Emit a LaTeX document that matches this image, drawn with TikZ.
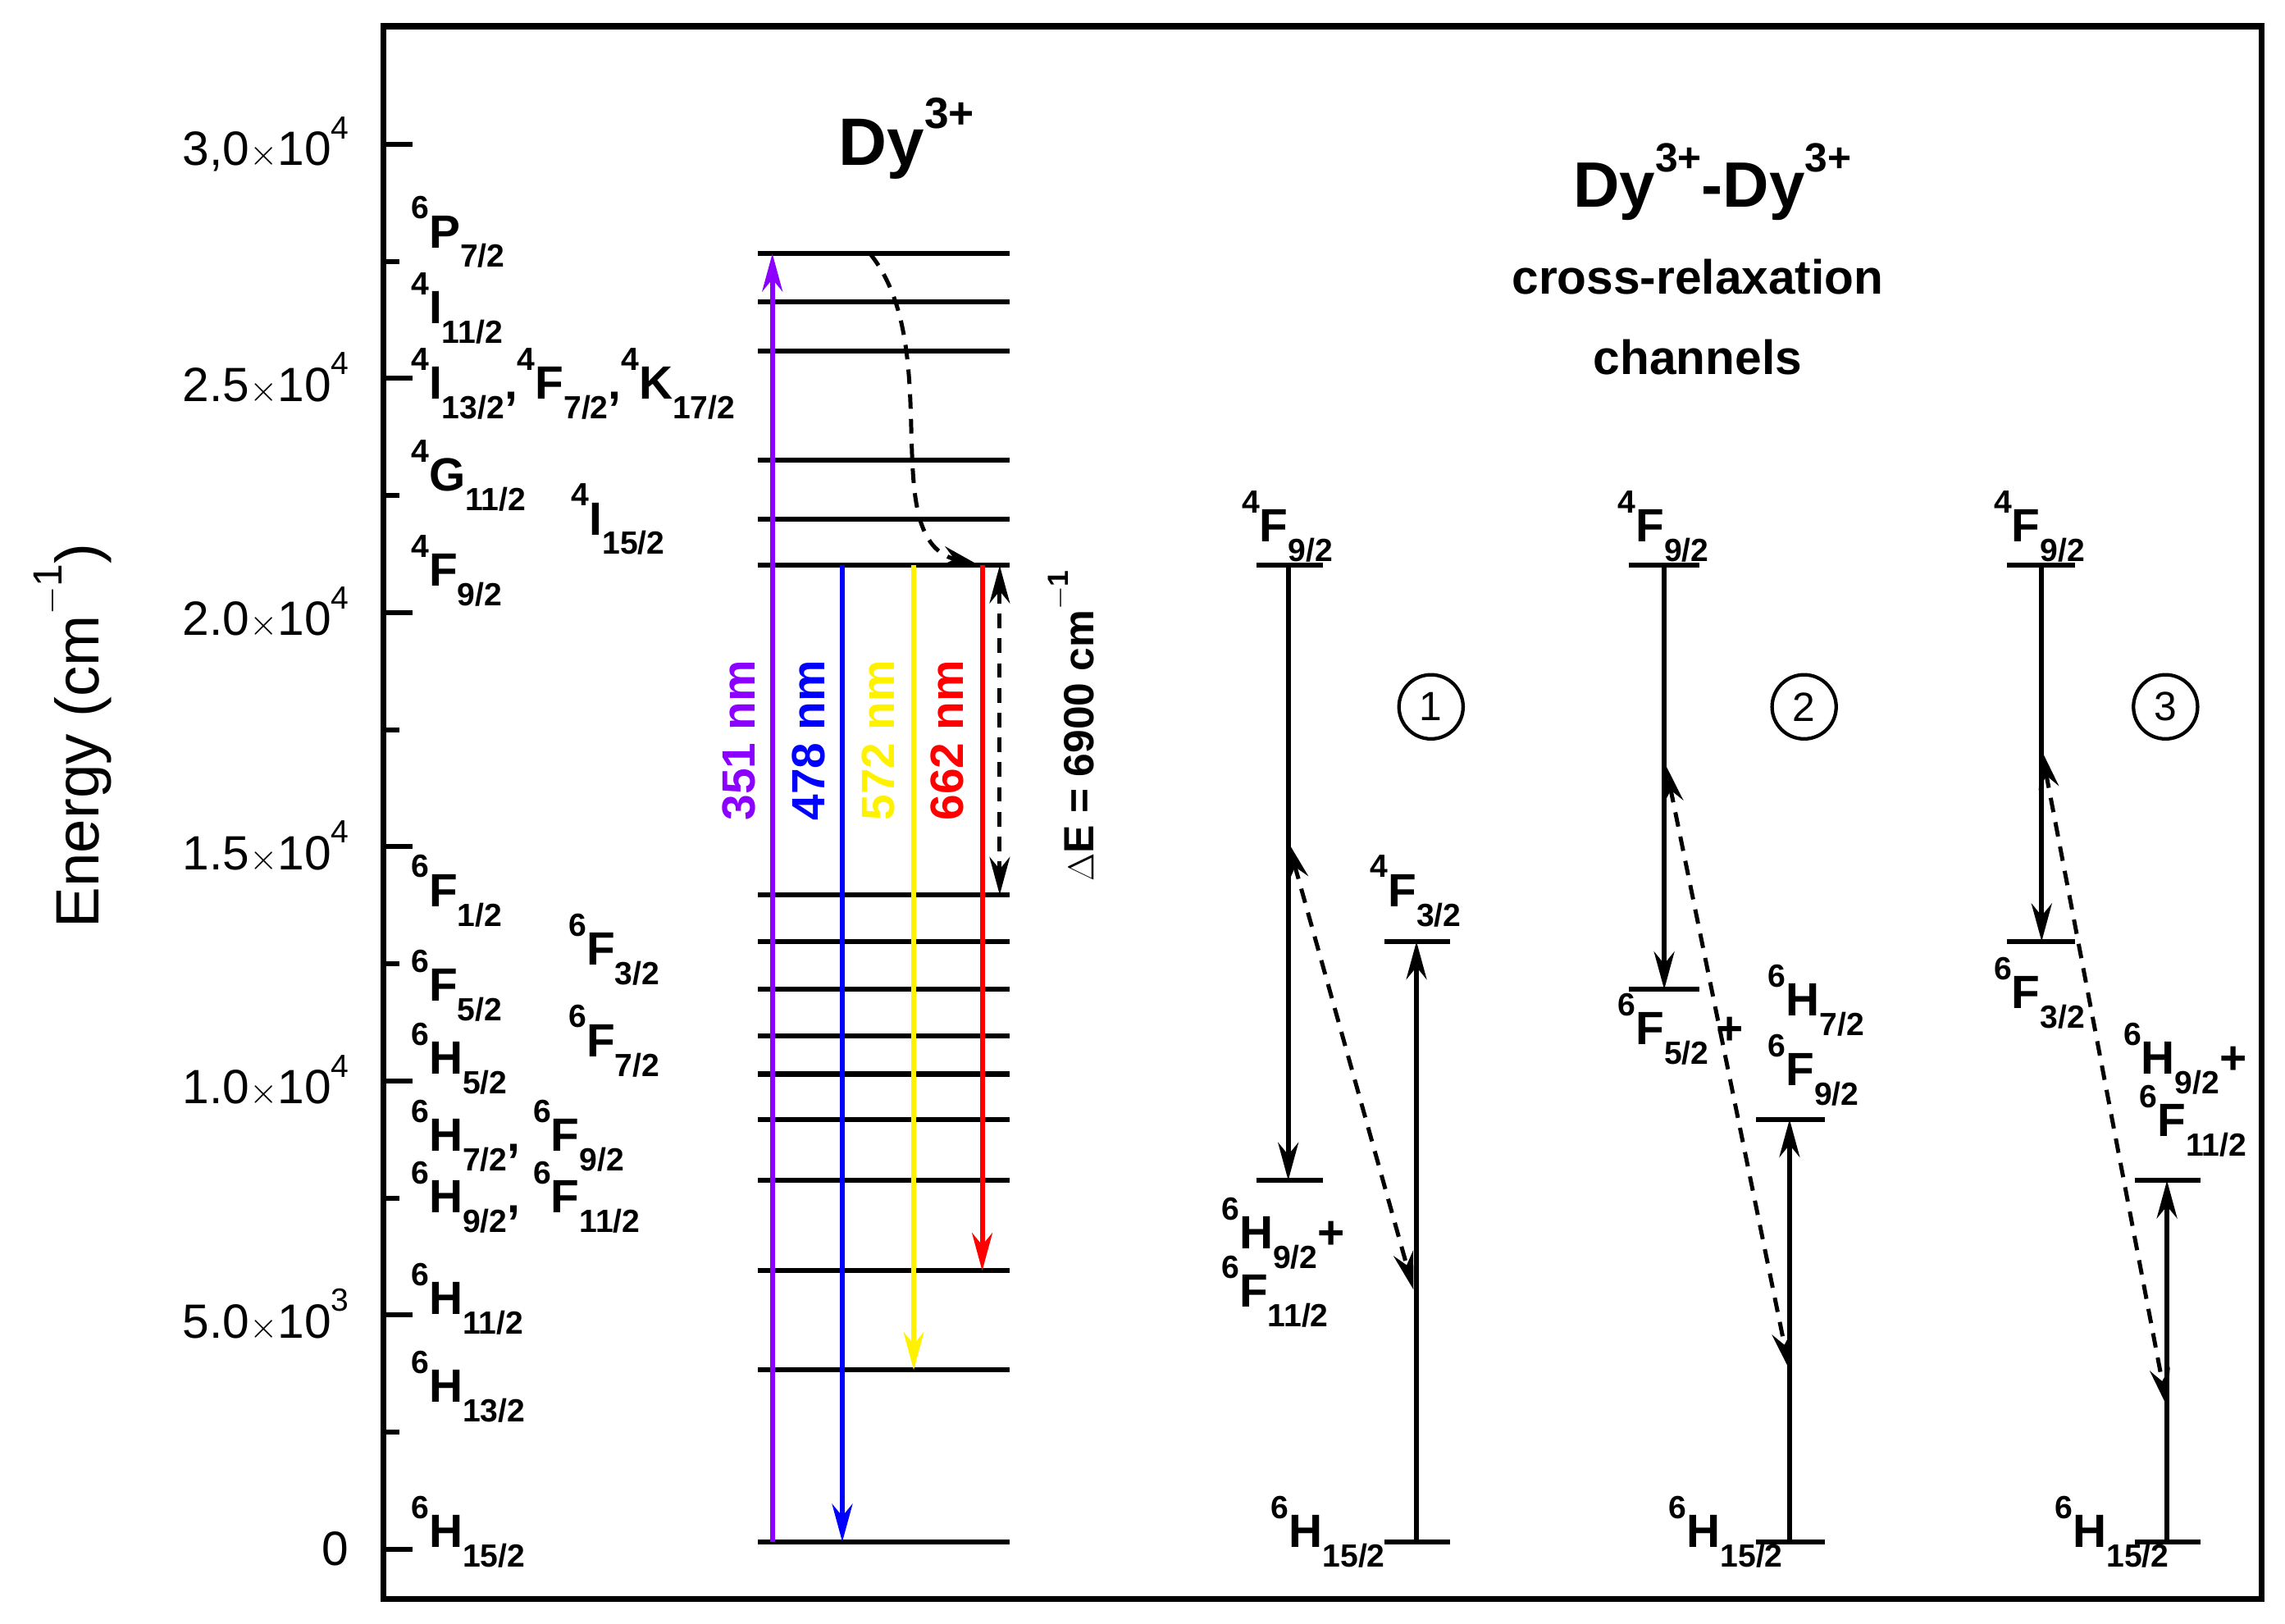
\documentclass[tikz,border=0pt]{standalone}
\usepackage{fontspec}
\setmainfont{Liberation Sans}
\usetikzlibrary{arrows.meta}
\definecolor{vio}{RGB}{140,0,255}
\newcommand\lv[3]{\raisebox{0.62em}{\fontsize{22}{24}\selectfont#1}#2\raisebox{-0.42em}{\fontsize{22}{24}\selectfont#3}}
\newcommand\pw[1]{\raisebox{0.55em}{\fontsize{22}{24}\selectfont#1}}
\begin{document}
\begin{tikzpicture}[x=1pt,y=-1pt,
 lab/.style={font=\fontsize{32}{36}\selectfont\bfseries,anchor=base west,inner sep=0},
 lvl/.style={line width=3.4pt},
 tr/.style={line width=3.4pt,-{Stealth[length=26pt,width=14pt]}},
 dsh/.style={line width=2.8pt,dash pattern=on 10pt off 7pt,-{Stealth[length=26pt,width=14pt]}},
 bdsh/.style={dsh,{Stealth[length=26pt,width=14pt]}-{Stealth[length=26pt,width=14pt]}},
 nm/.style={font=\fontsize{32}{36}\selectfont\bfseries,rotate=90},
 circ/.style={circle,draw,line width=2.4pt,minimum size=44pt,inner sep=0,font=\fontsize{28}{30}\selectfont},
 tk/.style={font=\fontsize{33}{36}\selectfont,anchor=east}]
\useasboundingbox (0,0) rectangle (1568,1114);
\draw[line width=4pt] (263,18) rectangle (1552,1097);
% ticks
\foreach \e/\t in {0/0,5/{5.0$\times$10\pw{3}},10/{1.0$\times$10\pw{4}},15/{1.5$\times$10\pw{4}},20/{2.0$\times$10\pw{4}},25/{2.5$\times$10\pw{4}},30/{3,0$\times$10\pw{4}}}{
 \draw[line width=3.4pt] (263,{1063-\e*32.133}) -- (283,{1063-\e*32.133});
 \node[tk] (t\e) at (243,{1063-\e*32.133}) {\t};}
\foreach \e in {2.5,7.5,12.5,17.5,22.5,27.5,32.5}{
 \draw[line width=3.4pt] (263,{1063-\e*32.133}) -- (274,{1063-\e*32.133});}
\node[rotate=90,font=\fontsize{42}{46}\selectfont] (ax) at (50,505) {Energy (cm\raisebox{0.6em}{\fontsize{28}{30}\selectfont$-$1})};
% levels
\foreach \y [count=\i] in {174,207,241,316,356,388,614,646,679,711,737,768,810,872,940,1058}{
 \draw[lvl] (520,\y) coordinate (L\i a) -- (693,\y) coordinate (L\i b);}
\coordinate (v1) at (530,1058); \coordinate (v2) at (530,174);
\draw[tr,draw=vio,fill=vio] (v1) -- (v2);
\coordinate (b1) at (578,388); \coordinate (b2) at (578,1058);
\draw[tr,draw=blue,fill=blue] (b1) -- (b2);
\coordinate (y1) at (627,388); \coordinate (y2) at (627,940);
\draw[tr,draw=yellow,fill=yellow] (y1) -- (y2);
\coordinate (r1) at (674,388); \coordinate (r2) at (674,872);
\draw[tr,draw=red,fill=red] (r1) -- (r2);
\coordinate (c1) at (597,174); \coordinate (c2) at (672,388);
\draw[dsh] (c1) .. controls (650,240) and (600,370) .. (c2);
\coordinate (d1) at (686,388); \coordinate (d2) at (686,614);
\draw[bdsh] (d1) -- (d2);
\node[nm,text=vio] (w1) at (507,508) {351 nm};
\node[nm,text=blue] (w2) at (555,508) {478 nm};
\node[nm,text=yellow] (w3) at (603,508) {572 nm};
\node[nm,text=red] (w4) at (650,508) {662 nm};
\node[font=\fontsize{29}{32}\selectfont\bfseries,rotate=90] (dE) at (735,498) {$\Delta$E = 6900 cm\raisebox{0.6em}{\fontsize{20}{22}\selectfont$-$1}};
\node[font=\fontsize{46}{50}\selectfont\bfseries] (t1) at (622,95) {Dy\raisebox{0.55em}{\fontsize{30}{32}\selectfont 3+}};
\node[font=\fontsize{44}{48}\selectfont\bfseries] (t2) at (1175,125) {Dy\raisebox{0.55em}{\fontsize{28}{30}\selectfont 3+}-Dy\raisebox{0.55em}{\fontsize{28}{30}\selectfont 3+}};
\node[font=\fontsize{33}{36}\selectfont\bfseries] (t3) at (1165,190) {cross-relaxation};
\node[font=\fontsize{33}{36}\selectfont\bfseries] (t4) at (1165,245) {channels};
% left labels
\node[lab] (a1) at (282,170) {\lv{6}{P}{7/2}};
\node[lab] (a2) at (282,222) {\lv{4}{I}{11/2}};
\node[lab] (a3) at (282,274) {\lv{4}{I}{13/2},\lv{4}{F}{7/2},\lv{4}{K}{17/2}};
\node[lab] (a4) at (282,337) {\lv{4}{G}{11/2}};
\node[lab] (a5) at (392,367) {\lv{4}{I}{15/2}};
\node[lab] (a6) at (282,402) {\lv{4}{F}{9/2}};
\node[lab] (a7) at (282,622) {\lv{6}{F}{1/2}};
\node[lab] (a8) at (390,662) {\lv{6}{F}{3/2}};
\node[lab] (a9) at (282,687) {\lv{6}{F}{5/2}};
\node[lab] (a10) at (390,725) {\lv{6}{F}{7/2}};
\node[lab] (a11) at (282,737) {\lv{6}{H}{5/2}};
\node[lab] (a12) at (282,790) {\lv{6}{H}{7/2}, \lv{6}{F}{9/2}};
\node[lab] (a13) at (282,832) {\lv{6}{H}{9/2}, \lv{6}{F}{11/2}};
\node[lab] (a14) at (282,902) {\lv{6}{H}{11/2}};
\node[lab] (a15) at (282,962) {\lv{6}{H}{13/2}};
\node[lab] (a16) at (282,1062) {\lv{6}{H}{15/2}};
% channel 1
\draw[lvl] (862,388) -- (908,388);
\draw[lvl] (862,810) -- (908,810);
\draw[lvl] (950,1058) -- (995,1058);
\draw[lvl] (950,646) -- (995,646);
\coordinate (q1) at (884,388); \coordinate (q2) at (884,810);
\draw[tr] (q1) -- (q2);
\coordinate (q3) at (972,1058); \coordinate (q4) at (972,646);
\draw[tr] (q3) -- (q4);
\coordinate (q5) at (884,578); \coordinate (q6) at (970,885);
\draw[bdsh] (q5) -- (q6);
\node[circ] (n1) at (982,485) {1};
\node[lab] (e1) at (852,372) {\lv{4}{F}{9/2}};
\node[lab] (e2) at (838,857) {\lv{6}{H}{9/2}+};
\node[lab] (e3) at (838,897) {\lv{6}{F}{11/2}};
\node[lab] (e4) at (940,622) {\lv{4}{F}{3/2}};
\node[lab] (e5) at (872,1062) {\lv{6}{H}{15/2}};
% channel 2
\draw[lvl] (1118,388) -- (1166,388);
\draw[lvl] (1118,679) -- (1166,679);
\draw[lvl] (1205,1058) -- (1252,1058);
\draw[lvl] (1205,768) -- (1252,768);
\coordinate (s1) at (1142,388); \coordinate (s2) at (1142,679);
\draw[tr] (s1) -- (s2);
\coordinate (s3) at (1228,1058); \coordinate (s4) at (1228,768);
\draw[tr] (s3) -- (s4);
\coordinate (s5) at (1143,525); \coordinate (s6) at (1228,940);
\draw[bdsh] (s5) -- (s6);
\node[circ] (n2) at (1238,485) {2};
\node[lab] (f1) at (1110,372) {\lv{4}{F}{9/2}};
\node[lab] (f2) at (1110,717) {\lv{6}{F}{5/2}\,+};
\node[lab] (f3) at (1213,697) {\lv{6}{H}{7/2}};
\node[lab] (f4) at (1213,745) {\lv{6}{F}{9/2}};
\node[lab] (f5) at (1145,1062) {\lv{6}{H}{15/2}};
% channel 3
\draw[lvl] (1377,388) -- (1424,388);
\draw[lvl] (1377,646) -- (1424,646);
\draw[lvl] (1465,1058) -- (1510,1058);
\draw[lvl] (1465,810) -- (1510,810);
\coordinate (u1) at (1401,388); \coordinate (u2) at (1401,646);
\draw[tr] (u1) -- (u2);
\coordinate (u3) at (1487,1058); \coordinate (u4) at (1487,810);
\draw[tr] (u3) -- (u4);
\coordinate (u5) at (1401,515); \coordinate (u6) at (1487,965);
\draw[bdsh] (u5) -- (u6);
\node[circ] (n3) at (1486,485) {3};
\node[lab] (g1) at (1368,372) {\lv{4}{F}{9/2}};
\node[lab] (g2) at (1368,692) {\lv{6}{F}{3/2}};
\node[lab] (g3) at (1457,737) {\lv{6}{H}{9/2}+};
\node[lab] (g4) at (1468,780) {\lv{6}{F}{11/2}};
\node[lab] (g5) at (1410,1062) {\lv{6}{H}{15/2}};
\end{tikzpicture}
\end{document}
